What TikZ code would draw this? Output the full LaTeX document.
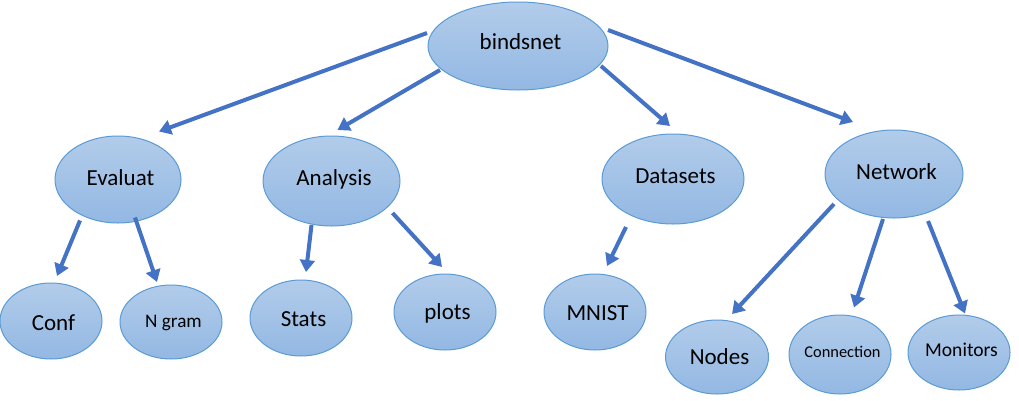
\documentclass[tikz,border=0pt]{standalone}
\usepackage{fontspec}
\setmainfont{Carlito}
\usetikzlibrary{shapes.geometric,arrows.meta,calc}
\definecolor{elltop}{RGB}{178,204,234}
\definecolor{ellbot}{RGB}{147,184,227}
\definecolor{bordc}{RGB}{91,155,213}
\definecolor{arrc}{RGB}{68,114,196}
\begin{document}
\begin{tikzpicture}[x=0.75pt,y=-0.75pt,
  bl/.code={\pgfmathsetmacro\myTH{(10+#1)*0.75}\pgfmathsetmacro\myTD{(10-#1)*0.75}%
    \edef\mynext{\noexpand\tikzset{text height=\myTH pt,text depth=\myTD pt}}\mynext},
  ell/.style={ellipse, draw=bordc, line width=0.75pt, top color=elltop, bottom color=ellbot,
    inner sep=0pt, font=\fontsize{17.25}{20}\selectfont, bl=5,
    execute at begin node={\hspace*{3.75pt}}},
  sz/.style 2 args={minimum width=#1*1.5pt, minimum height=#2*1.5pt},
  arr/.style={draw=arrc, line width=3pt, -{Triangle[length=9pt,width=11pt]}}
]
\useasboundingbox (0,0) rectangle (1019,400);

\node[ell, sz={90}{44}, bl=3] (B) at (518,46) {bindsnet};
\node[ell, sz={63}{43.5}, bl=6] (E) at (118,179.5) {Evaluat};
\node[ell, sz={68.5}{45}, bl=4] (A) at (331.5,181) {Analysis};
\node[ell, sz={71}{45}, bl=4] (D) at (673,179) {Datasets};
\node[ell, sz={69}{44}, bl=5] (N) at (894,174) {Network};

\node[ell, sz={51}{38}, bl=9] (C1) at (51,321) {Conf};
\node[ell, sz={51}{37}, bl=5, font=\fontsize{14.4}{17}\selectfont] (C2) at (171,322) {N gram};
\node[ell, sz={51}{38}, bl=8] (S) at (301,318) {Stats};
\node[ell, sz={51}{38}, bl=7] (P) at (445,312) {plots};
\node[ell, sz={51}{38}, bl=8] (M) at (595,312) {MNIST};
\node[ell, sz={51.5}{37}, bl=7] (No) at (717,357) {Nodes};
\node[ell, sz={51}{39.5}, bl=3, font=\fontsize{12.3}{15}\selectfont] (Co) at (840,354.5) {\makebox[0pt]{Connection}};
\node[ell, sz={51}{37.5}, bl=4, font=\fontsize{14.7}{17}\selectfont] (Mo) at (959,352.5) {\makebox[0pt]{Monitors}};

\draw[arr] ($(B)+(-91,-13)$) -- ($(E)+(41,-48)$);
\draw[arr] ($(B)+(-78,24)$) -- ($(A)+(6,-51)$);
\draw[arr] ($(B)+(83,20)$) -- ($(D)+(-3,-53)$);
\draw[arr] ($(B)+(90,-16)$) -- ($(N)+(-41,-52)$);
\draw[arr] ($(E)+(-38,41)$) -- ($(C1)+(6,-45)$);
\draw[arr] ($(E)+(17,38)$) -- ($(C2)+(-14,-40)$);
\draw[arr] ($(A)+(-20,44)$) -- ($(S)+(5,-46)$);
\draw[arr] ($(A)+(61,32)$) -- ($(P)+(-3,-45)$);
\draw[arr] ($(D)+(-47,48)$) -- ($(M)+(12,-46)$);
\draw[arr] ($(N)+(-60,30)$) -- ($(No)+(15,-43)$);
\draw[arr] ($(N)+(-11,45)$) -- ($(Co)+(14,-47)$);
\draw[arr] ($(N)+(34,47)$) -- ($(Mo)+(6,-39)$);
\end{tikzpicture}
\end{document}
